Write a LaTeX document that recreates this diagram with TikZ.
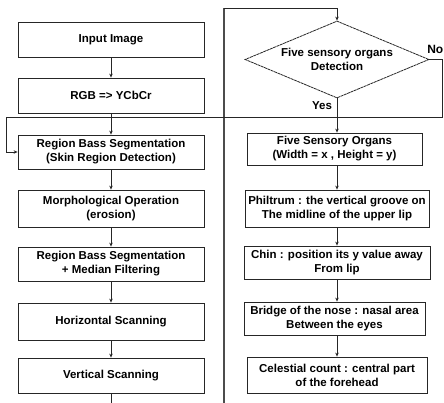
\documentclass[tikz,border=0pt]{standalone}
\usepackage{fontspec}
\setmainfont{Liberation Sans}
\usetikzlibrary{shapes.geometric,arrows.meta}
\begin{document}
\begin{tikzpicture}[x=1pt,y=-1pt,
  every node/.style={font=\bfseries\fontsize{11.5}{14}\selectfont, align=center},
  box/.style={draw=black!85, line width=0.8pt, inner sep=1pt, minimum height=#1},
  box/.default=35,
  conn/.style={draw=black!85, line width=0.8pt},
  arr/.style={conn, -{Stealth[length=4pt,width=3.5pt]}}]
\useasboundingbox (0,0) rectangle (444,403);
% left column
\node[box, minimum width=186] (input) at (111,39.5) {Input Image};
\node[box, minimum width=186] (rgb) at (111,95.5) {RGB => YCbCr};
\node[box=34, minimum width=186] (seg1) at (111,152) {Region Bass Segmentation\\(Skin Region Detection)};
\node[box=37, minimum width=186] (morph) at (111,208.5) {Morphological Operation\\(erosion)};
\node[box=34, minimum width=186] (seg2) at (111,264) {Region Bass Segmentation\\+ Median Filtering};
\node[box=37, minimum width=186] (horiz) at (111,321.5) {Horizontal Scanning};
\node[box, minimum width=186] (vert) at (111,375.5) {Vertical Scanning};
\coordinate (lbot) at (111,403);
% right column
\node[draw=black!85, line width=0.8pt, dashed, dash pattern=on 3pt off 0.6pt, shape=diamond, aspect=2.39, minimum width=184, minimum height=77, inner sep=0pt] (det) at (337,59.5) {Five sensory organs\\Detection};
\node[box=32, minimum width=175] (five) at (334.5,149) {Five Sensory Organs\\(Width = x , Height = y)};
\node[box=37, minimum width=184] (phil) at (337,208.5) {Philtrum : the vertical groove on\\The midline of the upper lip};
\node[box=33, minimum width=186] (chin) at (337,262.5) {Chin : position its y value away\\From lip};
\node[box=33, minimum width=181] (bridge) at (334.5,318.5) {Bridge of the nose : nasal area\\Between the eyes};
\node[box=36, minimum width=180] (cel) at (337,375) {Celestial count : central part\\of the forehead};
% labels
\node[anchor=east, inner sep=0pt, font=\bfseries\fontsize{12}{14}\selectfont] (no) at (443.5,49) {No};
\node[inner sep=0pt] (yes) at (322,105.5) {Yes};
% left chain
\draw[arr] (input) -- (rgb);
\draw[arr] (rgb) -- (seg1);
\draw[arr] (seg1) -- (morph);
\draw[arr] (morph) -- (seg2);
\draw[arr] (seg2) -- (horiz);
\draw[arr] (horiz) -- (vert);
\draw[conn] (vert) -- (lbot);
% loop to top of right column
\coordinate (rbot) at (224,403);
\coordinate (rtop) at (224,8);
\coordinate (dtop) at (337,8);
\draw[conn, line width=1.6pt, black!70] (rbot) -- (rtop);
\draw[arr] (rtop) -- (dtop) -- (det.north);
% No branch
\coordinate (n1) at (442,59.5);
\coordinate (n2) at (442,117);
\coordinate (n3) at (6,117);
\coordinate (n4) at (6,152);
\draw[arr] (det.east) -- (n1) -- (n2) -- (n3) -- (n4) -- (seg1.west);
% right chain
\draw[arr] (det.south) -- (five.north -| det.south);
\draw[arr] (five.south -| phil.north) -- (phil.north);
\draw[arr] (phil) -- (chin);
\draw[arr] (chin) -- (bridge.north -| chin.south);
\draw[arr] (bridge.south -| cel.north) -- (cel);
\end{tikzpicture}
\end{document}
